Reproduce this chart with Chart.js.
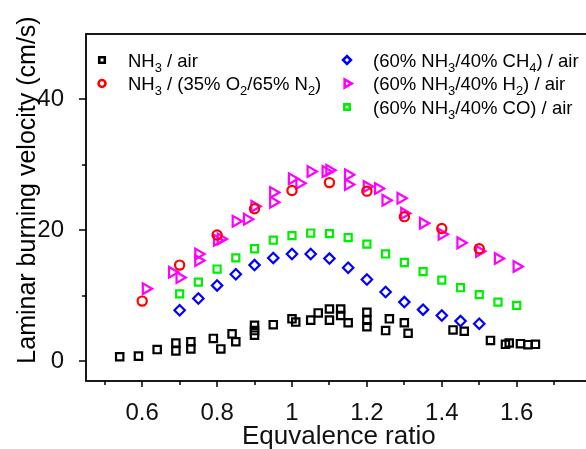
<!DOCTYPE html>
<html>
<head>
<meta charset="utf-8">
<script src="https://cdn.jsdelivr.net/npm/chart.js@4.4.1/dist/chart.umd.min.js"></script>
<style>
  html, body { margin: 0; padding: 0; background: #fff; overflow: hidden; }
  #wrap { width: 600px; height: 449px; }
</style>
</head>
<body>
<div id="wrap"><canvas id="burnChart" width="600" height="449"></canvas></div>
<script>
// values (equivalence ratio, cm/s)
const nh3AirX = [0.54, 0.59, 0.64, 0.69, 0.69, 0.73, 0.73, 0.79, 0.81, 0.84, 0.85, 0.90, 0.90, 0.90, 0.95, 1.00, 1.01, 1.05, 1.07, 1.10, 1.10, 1.13, 1.13, 1.15, 1.20, 1.20, 1.20, 1.26, 1.25, 1.30, 1.31, 1.43, 1.46, 1.53, 1.57, 1.58, 1.61, 1.63, 1.65];
const nh3AirY = [0.7, 0.8, 1.8, 2.8, 1.6, 3.0, 1.9, 3.5, 1.9, 4.2, 3.0, 5.5, 4.7, 4.0, 5.6, 6.5, 6.0, 6.3, 7.4, 8.0, 6.3, 8.0, 7.0, 5.9, 7.5, 6.3, 5.3, 6.5, 4.7, 5.9, 4.3, 4.8, 4.6, 3.2, 2.6, 2.8, 2.7, 2.55, 2.6];

const nh3O2X = [0.6, 0.7, 0.8, 0.9, 1.0, 1.1, 1.2, 1.3, 1.4, 1.5];
const nh3O2Y = [9.2, 14.7, 19.3, 23.3, 26.1, 27.3, 26.0, 22.1, 20.3, 17.2];

const ch4X = [0.70, 0.75, 0.80, 0.85, 0.90, 0.95, 1.00, 1.05, 1.10, 1.15, 1.20, 1.25, 1.30, 1.35, 1.40, 1.45, 1.50];
const ch4Y = [7.8, 9.6, 11.6, 13.3, 14.7, 15.8, 16.4, 16.4, 15.7, 14.3, 12.5, 10.6, 9.05, 7.9, 7.0, 6.15, 5.75];

const h2X = [0.61, 0.68, 0.70, 0.75, 0.75, 0.80, 0.81, 0.85, 0.88, 0.90, 0.95, 0.95, 1.00, 1.02, 1.05, 1.09, 1.10, 1.15, 1.15, 1.20, 1.23, 1.25, 1.29, 1.30, 1.35, 1.40, 1.45, 1.50, 1.55, 1.60];
const h2Y = [11.1, 13.6, 12.8, 16.4, 15.4, 18.5, 18.7, 21.4, 21.7, 23.7, 25.8, 24.3, 27.9, 27.2, 29.0, 29.0, 29.2, 28.5, 27.0, 26.7, 26.4, 24.6, 24.9, 22.6, 21.1, 19.4, 18.1, 16.8, 15.7, 14.5];

const coX = [0.70, 0.75, 0.80, 0.85, 0.90, 0.95, 1.00, 1.05, 1.10, 1.15, 1.20, 1.25, 1.30, 1.35, 1.40, 1.45, 1.50, 1.55, 1.60];
const coY = [10.3, 12.1, 14.1, 15.8, 17.2, 18.5, 19.2, 19.6, 19.5, 18.9, 17.9, 16.4, 15.1, 13.7, 12.4, 11.25, 10.2, 9.05, 8.55];

const xMajorTicks = [0.6, 0.8, 1, 1.2, 1.4, 1.6];
const xMinorTicks = [0.5, 0.7, 0.9, 1.1, 1.3, 1.5, 1.7];
const yMajorTicks = [0, 20, 40];
const yMinorTicks = [10, 30];

const FONT = '"Liberation Sans", Arial, sans-serif';
const pts = (xs, ys) => xs.map((x, i) => ({ x, y: ys[i] }));

function series(label, xs, ys, color, style, radius, rotation) {
  return {
    label, data: pts(xs, ys),
    pointStyle: style, pointRadius: radius, pointRotation: rotation || 0,
    borderColor: color, backgroundColor: "rgba(0,0,0,0)",
    pointBorderWidth: 2.2, showLine: false
  };
}

// draws "NH₃" style labels with real subscripts
function richText(ctx, text, x, y, size) {
  const subs = "₀₁₂₃₄₅₆₇₈₉";
  let runs = [];
  for (const ch of text) {
    const k = subs.indexOf(ch);
    const sub = k >= 0;
    const c = sub ? String(k) : ch;
    if (runs.length && runs[runs.length - 1].sub === sub) runs[runs.length - 1].t += c;
    else runs.push({ sub, t: c });
  }
  ctx.textAlign = "left";
  ctx.textBaseline = "alphabetic";
  let cx = x;
  const base = y + size * 0.36;
  for (const r of runs) {
    ctx.font = (r.sub ? size * 0.7 : size) + "px " + FONT;
    ctx.fillText(r.t, cx, r.sub ? base + size * 0.27 : base);
    cx += ctx.measureText(r.t).width;
  }
}

const framePlugin = {
  id: "frame",
  beforeDatasetsDraw(chart) {
    const { ctx, chartArea: a, scales: { x, y } } = chart;
    ctx.save();
    ctx.strokeStyle = "#000";
    ctx.lineWidth = 1.8;
    ctx.strokeRect(a.left, a.top, a.right - a.left, a.bottom - a.top);
    ctx.lineWidth = 1.5;
    ctx.beginPath();
    xMajorTicks.forEach(v => { const p = Math.round(x.getPixelForValue(v)); ctx.moveTo(p, a.bottom); ctx.lineTo(p, a.bottom + 6); });
    xMinorTicks.forEach(v => { const p = Math.round(x.getPixelForValue(v)); ctx.moveTo(p, a.bottom); ctx.lineTo(p, a.bottom + 4); });
    yMajorTicks.forEach(v => { const p = Math.round(y.getPixelForValue(v)); ctx.moveTo(a.left, p); ctx.lineTo(a.left - 7, p); });
    yMinorTicks.forEach(v => { const p = Math.round(y.getPixelForValue(v)); ctx.moveTo(a.left, p); ctx.lineTo(a.left - 4, p); });
    ctx.stroke();

    // y axis title
    ctx.translate(28, 190);
    ctx.rotate(-Math.PI / 2);
    ctx.fillStyle = "#000";
    ctx.font = "25px " + FONT;
    ctx.textAlign = "center";
    ctx.textBaseline = "middle";
    ctx.fillText("Laminar burning velocity (cm/s)", 0, 0);
    ctx.restore();
  },
  afterDraw(chart) {
    const { ctx } = chart;
    // legend: two columns inside the plot
    const spots = [[102, 60], [102, 83.5], [347, 60], [347, 83.5], [347, 107]];
    ctx.save();
    chart.data.datasets.forEach((ds, i) => {
      const [mx, my] = spots[i];
      ctx.strokeStyle = ds.borderColor;
      ctx.fillStyle = "rgba(0,0,0,0)";
      ctx.lineWidth = 2.6;
      Chart.helpers.drawPoint(ctx, {
        pointStyle: ds.pointStyle, radius: ds.pointRadius * 0.75,
        rotation: ds.pointRotation, borderWidth: 2.6
      }, mx, my);
      ctx.fillStyle = "#000";
      richText(ctx, ds.label, mx + 26, my, 18.5);
    });
    ctx.restore();
  }
};

new Chart(document.getElementById("burnChart"), {
  type: "scatter",
  data: {
    datasets: [
      series("NH₃ / air", nh3AirX, nh3AirY, "#000000", "rect", 5.2),
      series("NH₃ / (35% O₂/65% N₂)", nh3O2X, nh3O2Y, "#ff0000", "circle", 4.6),
      series("(60% NH₃/40% CH₄) / air", ch4X, ch4Y, "#0000ff", "rectRot", 5.2),
      series("(60% NH₃/40% H₂) / air", h2X, h2Y, "#ff00ff", "triangle", 6.2, 90),
      series("(60% NH₃/40% CO) / air", coX, coY, "#00ee00", "rect", 5.0)
    ]
  },
  options: {
    responsive: false,
    animation: false,
    devicePixelRatio: 1,
    layout: { padding: { top: 34, right: 6, left: 0, bottom: 0 } },
    plugins: { legend: { display: false }, tooltip: { enabled: false } },
    scales: {
      x: {
        type: "linear", min: 0.45, max: 1.8,
        grid: { display: false }, border: { display: false },
        afterBuildTicks: s => { s.ticks = xMajorTicks.map(v => ({ value: v })); },
        afterFit: s => { s.height = 68; },
        ticks: {
          autoSkip: false, maxRotation: 0, padding: 10, color: "#111",
          font: { family: FONT, size: 24 },
          callback: v => String(v)
        },
        title: {
          display: true, text: "Equvalence ratio", color: "#111", padding: 0,
          font: { family: FONT, size: 26, lineHeight: 0.92 }
        }
      },
      y: {
        type: "linear", min: -3, max: 50,
        grid: { display: false }, border: { display: false },
        afterBuildTicks: s => { s.ticks = yMajorTicks.map(v => ({ value: v })); },
        afterFit: s => { s.width = 86; },
        ticks: {
          padding: 14, color: "#111",
          font: { family: FONT, size: 24 },
          callback: v => String(v)
        }
      }
    }
  },
  plugins: [framePlugin]
});
</script>
</body>
</html>
